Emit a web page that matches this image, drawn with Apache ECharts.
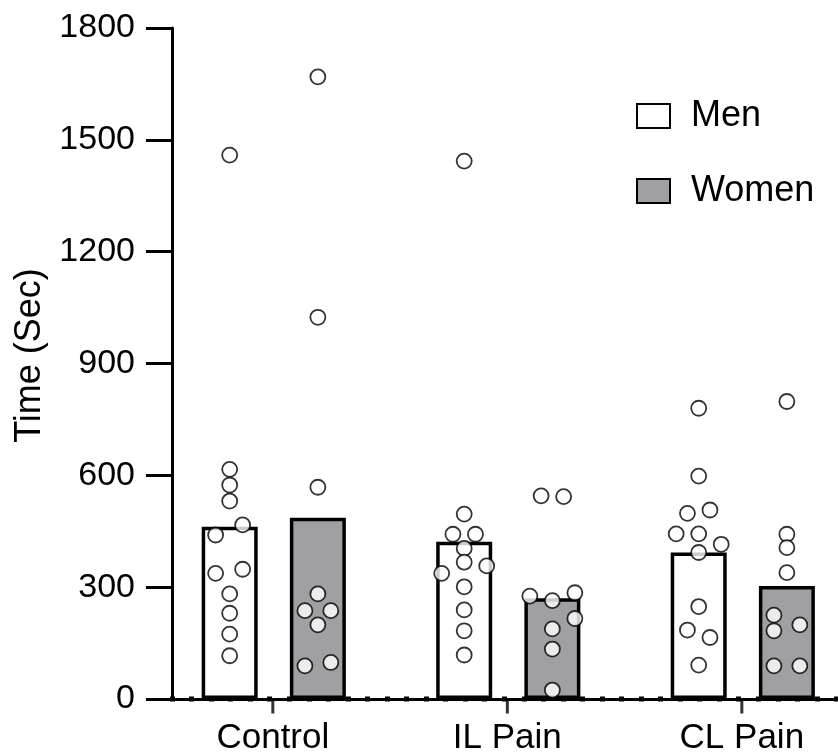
<!DOCTYPE html>
<html><head><meta charset="utf-8">
<script src="https://cdn.jsdelivr.net/npm/echarts@6/dist/echarts.min.js"></script>
<style>html,body{margin:0;padding:0;background:#fff}#c{width:838px;height:755px}</style>
</head><body><div id="c"></div>
<script>
// ---- data ----
const categories = ['Control', 'IL Pain', 'CL Pain'];
const groups = ['Men', 'Women'];
const yTicks = [0, 300, 600, 900, 1200, 1500, 1800];
const meanMen = [462, 422, 393];
const meanWomen = [486, 270, 303];

// individual values per category (Men)
const menControl = [1459, 616, 574, 531, 467, 440, 348, 337, 282, 230, 174, 116];
const menIL      = [1443, 496, 442, 442, 404, 367, 357, 337, 301, 239, 183, 118];
const menCL      = [780, 598, 507, 498, 443, 443, 415, 393, 248, 185, 165, 91];
// individual values per category (Women)
const womenControl = [1669, 1024, 568, 282, 237, 237, 199, 98, 89];
const womenIL      = [545, 543, 285, 276, 264, 216, 188, 134, 24];
const womenCL      = [798, 442, 406, 339, 225, 199, 183, 89, 89];

// jitter lanes (column position of each dot inside its group)
const menControlLane = [0, 0, 0, 0, 1.15, -1.25, 1.15, -1.25, 0, 0, 0, 0];
const menILLane      = [0, 0, -1, 1, 0, 0, 2, -2, 0, 0, 0, 0];
const menCLLane      = [0, 0, 1, -1, -2, 0, 2, 0, 0, -1, 1, 0];
const womenControlLane = [0, 0, 0, 0, -1.15, 1.15, 0, 1.15, -1.15];
const womenILLane      = [-1, 1, 2, -2, 0, 2, 0, 0, 0];
const womenCLLane      = [0, 0, 0, 0, -1.15, 1.15, -1.15, -1.15, 1.15];

// ---- layout helpers ----
const X_MIN = -0.43, X_MAX = 2.41;
const groupOffset = { Men: -0.184, Women: 0.192 };
const laneWidth = 0.048;
const FONT = 'Arial, "Liberation Sans", sans-serif';

const menVals = [menControl, menIL, menCL];
const menLanes = [menControlLane, menILLane, menCLLane];
const womenVals = [womenControl, womenIL, womenCL];
const womenLanes = [womenControlLane, womenILLane, womenCLLane];

function pts(vals, lanes, g) {
  const out = [];
  vals.forEach((arr, ci) => arr.forEach((v, k) => {
    out.push([ci + groupOffset[g] + lanes[ci][k] * laneWidth, v]);
  }));
  return out;
}

const chart = echarts.init(document.getElementById('c'), null, { renderer: 'canvas' });
const barCommon = { type: 'bar', barWidth: 56, barGap: '-100%', xAxisIndex: 0, yAxisIndex: 0, z: 2 };
const scatterCommon = {
  type: 'scatter', symbol: 'circle', symbolSize: 15, xAxisIndex: 0, yAxisIndex: 0, z: 5,
  itemStyle: { color: '#fff', borderColor: '#000', borderWidth: 1.8 }
};

chart.setOption({
  animation: false,
  textStyle: { fontFamily: FONT },
  grid: { left: 172, right: 0, top: 28, bottom: 56, containLabel: false, outerBoundsMode: 'none' },
  legend: {
    data: groups, orient: 'vertical', left: 631, top: 93,
    icon: 'rect', itemWidth: 33, itemHeight: 24, itemGap: 39,
    textStyle: { fontSize: 36, color: '#000', fontFamily: FONT, padding: [0, 0, 0, 16] }
  },
  xAxis: [
    {
      type: 'value', min: X_MIN, max: X_MAX, position: 'bottom',
      axisLine: { show: true, onZero: false, lineStyle: { color: '#000', width: 3 } },
      axisTick: { show: false },
      axisLabel: {
        customValues: categories.map((c, i) => i), formatter: v => categories[Math.round(v)],
        fontSize: 35, color: '#000', margin: 22, fontFamily: FONT
      },
      splitLine: { show: false }
    },
    {
      type: 'value', min: 0, max: (X_MAX - X_MIN) * 12, interval: 1, position: 'bottom', offset: -2.5,
      axisLine: { show: false, onZero: false },
      axisTick: { show: true, length: 5, lineStyle: { color: '#000', width: 5 } },
      axisLabel: { show: false },
      splitLine: { show: false }
    }
  ],
  yAxis: {
    type: 'value', min: yTicks[0], max: yTicks[yTicks.length - 1], interval: yTicks[1] - yTicks[0],
    name: 'Time (Sec)', nameLocation: 'middle', nameGap: 120, nameRotate: 90,
    nameTextStyle: { fontSize: 36, color: '#000', fontFamily: FONT, padding: [0, 0, 0, 16] },
    axisLine: { show: true, onZero: false, lineStyle: { color: '#000', width: 3 } },
    axisTick: { show: true, length: 26, lineStyle: { color: '#000', width: 3 } },
    axisLabel: { fontSize: 34, color: '#000', margin: 37, fontFamily: FONT, formatter: v => String(v) },
    splitLine: { show: false }
  },
  series: [
    Object.assign({}, barCommon, {
      name: 'Men', data: meanMen.map((v, i) => [i + groupOffset.Men, v]),
      itemStyle: { color: '#ffffff', borderColor: '#000', borderWidth: 3.5 }
    }),
    Object.assign({}, barCommon, {
      name: 'Women', data: meanWomen.map((v, i) => [i + groupOffset.Women, v]),
      itemStyle: { color: '#a0a0a4', borderColor: '#000', borderWidth: 3.5 }
    }),
    Object.assign({}, scatterCommon, { name: 'Men points', data: pts(menVals, menLanes, 'Men') }),
    Object.assign({}, scatterCommon, { name: 'Women points', data: pts(womenVals, womenLanes, 'Women') }),
    {
      // major category ticks below the x axis, one per category
      name: 'category ticks', type: 'scatter', xAxisIndex: 0, yAxisIndex: 0, z: 6, clip: false,
      symbol: 'rect', symbolSize: [3, 15], symbolOffset: [0, 7],
      itemStyle: { color: '#000' }, silent: true,
      data: categories.map((c, i) => [i, yTicks[0]])
    }
  ]
});
</script>
</body></html>
